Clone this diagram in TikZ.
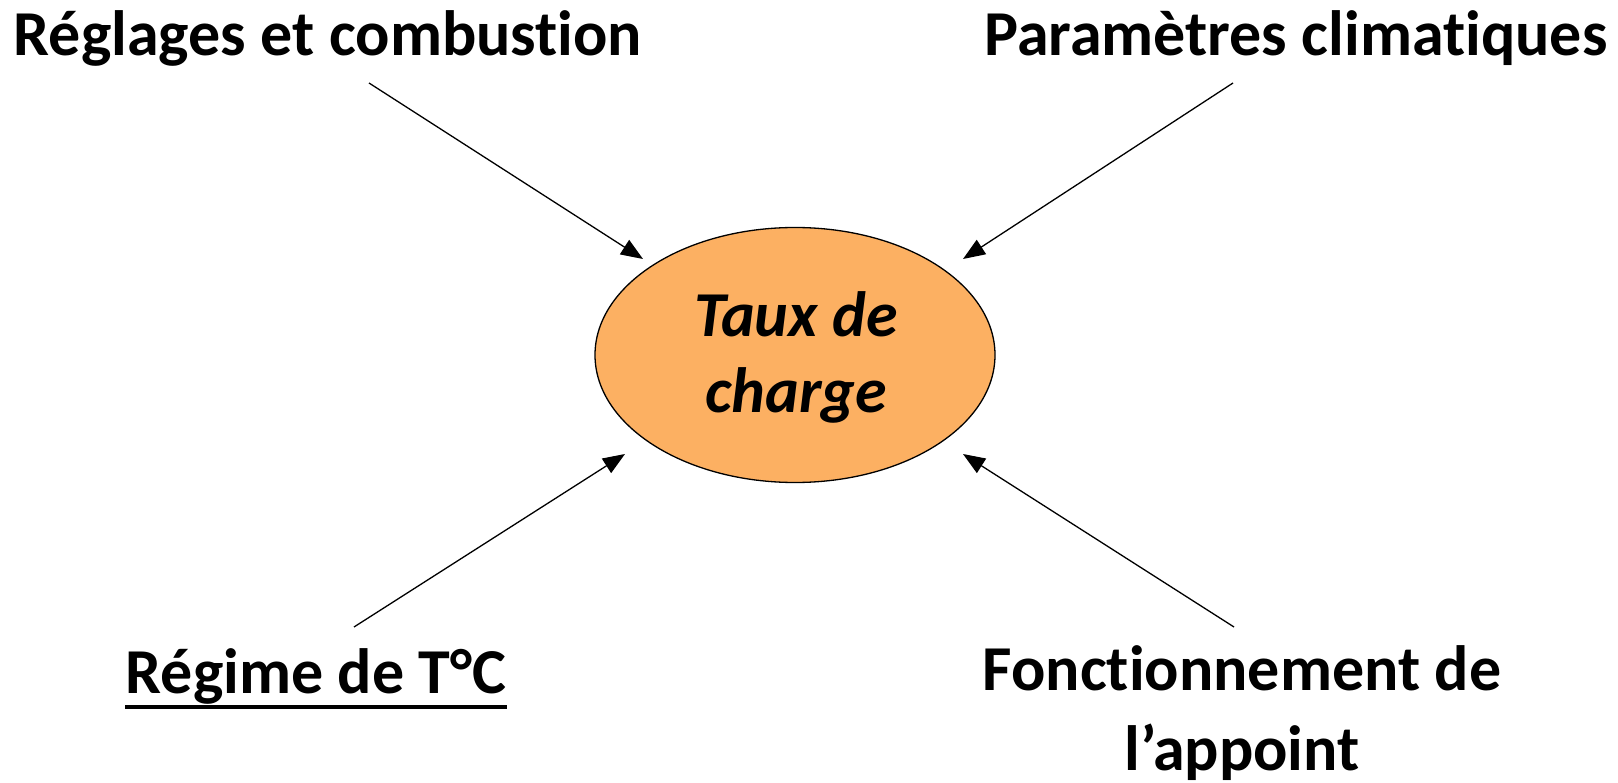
\documentclass[tikz,border=0pt]{standalone}
\usepackage{fontspec}
\setmainfont{Carlito}[Ligatures={NoCommon,TeX}]
\usetikzlibrary{arrows.meta,shapes.geometric}
\definecolor{orangefill}{RGB}{252,176,98}
\begin{document}
\begin{tikzpicture}[x=1pt,y=-1pt,
  lbl/.style={font=\fontsize{64}{80}\selectfont\bfseries, inner sep=0pt, align=center},
  arr/.style={line width=1.3pt, -{Triangle[length=22pt,width=17pt]}},
  blob/.style={ellipse, draw, line width=1.3pt, fill=orangefill, minimum width=400pt, minimum height=255pt, inner sep=0pt},
  blobtext/.style={font=\fontsize{64}{76}\selectfont\bfseries\itshape, inner sep=0pt, align=center}]
\useasboundingbox (0,0) rectangle (1618,783);
\node[blob] (c) at (795,355) {};
\node[blobtext, anchor=base] (ct) at (796,413) {Taux de\\charge};
\node[lbl, anchor=base] (tl) at (328,56) {Réglages et combustion};
\node[lbl, anchor=base] (tr) at (1296,56) {Paramètres climatiques};
\node[lbl, anchor=base] (bl) at (316,693) {Régime de T°C};
\node[lbl, anchor=base] (br) at (1242,770) {Fonctionnement de\\l’appoint};
\draw[line width=3.5pt] ([yshift=-14pt]bl.base west) -- ([yshift=-14pt]bl.base east);
\coordinate (s1) at (369,83);  \coordinate (e1) at (643,259);
\coordinate (s2) at (1233,83); \coordinate (e2) at (963,259);
\coordinate (s3) at (354,627); \coordinate (e3) at (625,454);
\coordinate (s4) at (1234,627); \coordinate (e4) at (963,454);
\draw[arr] (s1) -- (e1);
\draw[arr] (s2) -- (e2);
\draw[arr] (s3) -- (e3);
\draw[arr] (s4) -- (e4);
\end{tikzpicture}
\end{document}
